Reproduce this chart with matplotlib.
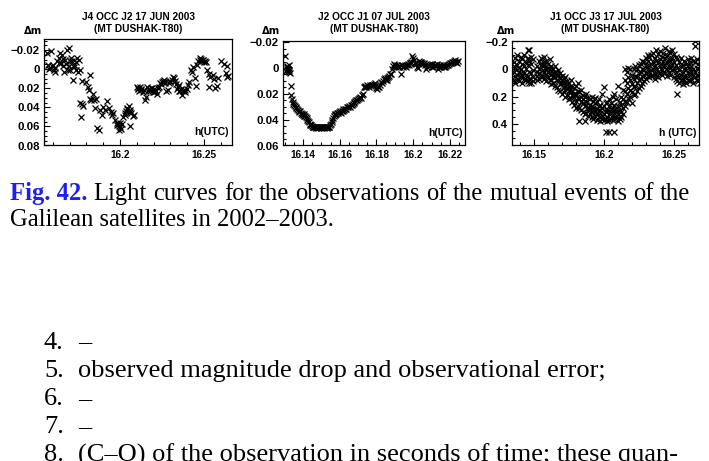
import matplotlib
matplotlib.use("Agg")
import matplotlib.pyplot as plt
from matplotlib.ticker import FixedLocator, MultipleLocator, FuncFormatter

# J4 occ J2, 17 Jun 2003
t1 = [16.1567, 16.1571, 16.1583, 16.1590, 16.1596, 16.1606, 16.1616, 16.1626, 16.1636, 16.1646,
      16.1650, 16.1655, 16.1661, 16.1669, 16.1675, 16.1685, 16.1695, 16.1699, 16.1705, 16.1709,
      16.1715, 16.1720, 16.1728, 16.1736, 16.1744, 16.1750, 16.1756, 16.1764, 16.1774, 16.1760,
      16.1772, 16.1780, 16.1770, 16.1819, 16.1799, 16.1807, 16.1813, 16.1819, 16.1829, 16.1839,
      16.1848, 16.1858, 16.1852, 16.1866, 16.1878, 16.1882, 16.1892, 16.1902, 16.1911, 16.1925,
      16.1937, 16.1945, 16.1953, 16.1961, 16.1970, 16.1980, 16.1990, 16.2000, 16.2006, 16.1992,
      16.2012, 16.2020, 16.2028, 16.2035, 16.2043, 16.2053, 16.2059, 16.2067, 16.2057, 16.2075,
      16.2083, 16.2102, 16.2110, 16.2118, 16.2128, 16.2138, 16.2148, 16.2154, 16.2161, 16.2171,
      16.2181, 16.2191, 16.2201, 16.2211, 16.2221, 16.2230, 16.2240, 16.2250, 16.2260, 16.2270,
      16.2276, 16.2287, 16.2297, 16.2307, 16.2315, 16.2325, 16.2335, 16.2345, 16.2354, 16.2364,
      16.2370, 16.2378, 16.2388, 16.2398, 16.2406, 16.2413, 16.2421, 16.2429, 16.2437, 16.2445,
      16.2453, 16.2459, 16.2467, 16.2475, 16.2482, 16.2492, 16.2502, 16.2512, 16.2520, 16.2528,
      16.2532, 16.2539, 16.2551, 16.2561, 16.2567, 16.2575, 16.2585, 16.2604, 16.2622, 16.2630,
      16.2638, 16.2646, 16.2638,
      16.1578, 16.1600, 16.1612, 16.1640, 16.1660, 16.1680, 16.1690, 16.1702, 16.1725, 16.1740,
      16.2105, 16.2115, 16.2125, 16.2145, 16.2165, 16.2185, 16.2195, 16.2205, 16.2215, 16.2225,
      16.2245, 16.2255, 16.2265, 16.2290, 16.2300, 16.2320, 16.2340, 16.2350, 16.2360, 16.2385,
      16.2475, 16.2485, 16.2495, 16.2505, 16.1985, 16.1996, 16.2003, 16.2030, 16.2040, 16.2062]
dm1 = [-0.0168, -0.0046, -0.0011, -0.0186, -0.0028, 0.0007, 0.0025, -0.0081, -0.0116, -0.0168,
       -0.0063, -0.0151, -0.0028, 0.0025, -0.0098, -0.0204, -0.0221, -0.0028, 0.0007, -0.0116,
       -0.0081, 0.0112, -0.0046, -0.0070, -0.0116, 0.0025, -0.0098, 0.0014, 0.0123, 0.0358,
       0.0369, 0.0386, 0.0498, 0.0060, 0.0130, 0.0190, 0.0218, 0.0316, 0.0323, 0.0260,
       0.0323, 0.0316, 0.0411, 0.0621, 0.0639, 0.0428, 0.0481, 0.0393, 0.0428, 0.0330,
       0.0411, 0.0446, 0.0481, 0.0463, 0.0534, 0.0562, 0.0576, 0.0611, 0.0632, 0.0639,
       0.0576, 0.0498, 0.0463, 0.0435, 0.0411, 0.0386, 0.0428, 0.0463, 0.0597, 0.0491,
       0.0481, 0.0190, 0.0211, 0.0190, 0.0218, 0.0235, 0.0323, 0.0295, 0.0190, 0.0211,
       0.0225, 0.0200, 0.0235, 0.0218, 0.0260, 0.0190, 0.0147, 0.0130, 0.0112, 0.0140,
       0.0225, 0.0218, 0.0130, 0.0112, 0.0077, 0.0119, 0.0154, 0.0190, 0.0165, 0.0211,
       0.0270, 0.0225, 0.0239, 0.0211, 0.0165, 0.0130, 0.0007, 0.0035, -0.0021, 0.0095,
       0.0176, -0.0046, -0.0081, -0.0116, -0.0105, -0.0091, -0.0077, -0.0077, 0.0007, 0.0049,
       0.0190, 0.0077, 0.0060, 0.0098, 0.0200, 0.0176, 0.0095, -0.0081, -0.0056, 0.0042,
       0.0084, 0.0070, -0.0035,
       0.0000, -0.0040, -0.0010, -0.0060, -0.0110, -0.0050, 0.0010, -0.0090, -0.0020, 0.0010,
       0.0200, 0.0230, 0.0205, 0.0215, 0.0225, 0.0195, 0.0240, 0.0210, 0.0225, 0.0200,
       0.0160, 0.0125, 0.0135, 0.0140, 0.0120, 0.0095, 0.0210, 0.0230, 0.0225, 0.0220,
       -0.0100, -0.0085, -0.0100, -0.0090, 0.0590, 0.0600, 0.0560, 0.0480, 0.0420, 0.0450]

# J2 occ J1, 07 Jul 2003
t2 = [16.1300, 16.1309, 16.1311, 16.1313, 16.1315, 16.1317, 16.1319, 16.1321, 16.1323, 16.1325,
      16.1327, 16.1332, 16.1336, 16.1340, 16.1344, 16.1348, 16.1352, 16.1356, 16.1360, 16.1364,
      16.1368, 16.1372, 16.1376, 16.1380, 16.1384, 16.1388, 16.1392, 16.1396, 16.1400, 16.1404,
      16.1408, 16.1412, 16.1416, 16.1420, 16.1424, 16.1428, 16.1432, 16.1436, 16.1440, 16.1444,
      16.1448, 16.1452, 16.1456, 16.1460, 16.1464, 16.1468, 16.1472, 16.1476, 16.1480, 16.1484,
      16.1488, 16.1492, 16.1496, 16.1500, 16.1504, 16.1508, 16.1512, 16.1516, 16.1520, 16.1524,
      16.1528, 16.1532, 16.1536, 16.1540, 16.1544, 16.1548, 16.1552, 16.1556, 16.1560, 16.1564,
      16.1568, 16.1572, 16.1576, 16.1580, 16.1585, 16.1590, 16.1595, 16.1600, 16.1605, 16.1610,
      16.1615, 16.1620, 16.1625, 16.1630, 16.1635, 16.1640, 16.1645, 16.1650, 16.1655, 16.1660,
      16.1665, 16.1670, 16.1675, 16.1680, 16.1685, 16.1690, 16.1695, 16.1700, 16.1705, 16.1710,
      16.1715, 16.1720, 16.1724, 16.1730, 16.1735, 16.1740, 16.1745, 16.1750, 16.1755, 16.1760,
      16.1765, 16.1770, 16.1775, 16.1780, 16.1785, 16.1790, 16.1795, 16.1800, 16.1805, 16.1810,
      16.1815, 16.1820, 16.1825, 16.1830, 16.1835, 16.1840, 16.1845, 16.1850, 16.1855, 16.1860,
      16.1865, 16.1870, 16.1875, 16.1880, 16.1885, 16.1890, 16.1895, 16.1900, 16.1905, 16.1910,
      16.1915, 16.1920, 16.1925, 16.1936, 16.1940, 16.1945, 16.1950, 16.1955, 16.1960, 16.1965,
      16.1970, 16.1975, 16.1980, 16.1985, 16.1990, 16.1995, 16.2000, 16.2005, 16.2010, 16.2015,
      16.2020, 16.2025, 16.2030, 16.2035, 16.2040, 16.2045, 16.2050, 16.2055, 16.2060, 16.2065,
      16.2070, 16.2075, 16.2080, 16.2085, 16.2090, 16.2095, 16.2100, 16.2105, 16.2110, 16.2115,
      16.2120, 16.2125, 16.2130, 16.2135, 16.2140, 16.2145, 16.2150, 16.2155, 16.2160, 16.2165,
      16.2170, 16.2175, 16.2180, 16.2185, 16.2190, 16.2195, 16.2200, 16.2205, 16.2210, 16.2215,
      16.2220, 16.2225, 16.2230, 16.2235, 16.2240, 16.2245]
dm2 = [-0.0095, 0.0026, -0.0005, 0.0010, -0.0015, 0.0020, 0.0005, -0.0020, 0.0030, 0.0015,
       0.0040, 0.0140, 0.0210, 0.0240, 0.0260, 0.0275, 0.0285, 0.0295, 0.0300, 0.0310,
       0.0320, 0.0325, 0.0330, 0.0340, 0.0335, 0.0350, 0.0355, 0.0360, 0.0365, 0.0360,
       0.0370, 0.0375, 0.0380, 0.0390, 0.0400, 0.0410, 0.0420, 0.0430, 0.0440, 0.0445,
       0.0450, 0.0455, 0.0458, 0.0460, 0.0455, 0.0462, 0.0458, 0.0460, 0.0455, 0.0462,
       0.0458, 0.0460, 0.0455, 0.0462, 0.0458, 0.0460, 0.0455, 0.0462, 0.0458, 0.0460,
       0.0455, 0.0462, 0.0458, 0.0460, 0.0455, 0.0440, 0.0430, 0.0415, 0.0400, 0.0390,
       0.0375, 0.0365, 0.0360, 0.0355, 0.0345, 0.0350, 0.0340, 0.0335, 0.0345, 0.0330,
       0.0335, 0.0320, 0.0325, 0.0315, 0.0320, 0.0305, 0.0300, 0.0295, 0.0300, 0.0285,
       0.0290, 0.0280, 0.0270, 0.0260, 0.0255, 0.0250, 0.0245, 0.0240, 0.0235, 0.0225,
       0.0230, 0.0210, 0.0200, 0.0150, 0.0145, 0.0140, 0.0145, 0.0135, 0.0140, 0.0145,
       0.0135, 0.0140, 0.0130, 0.0135, 0.0125, 0.0120, 0.0130, 0.0155, 0.0160, 0.0145,
       0.0150, 0.0130, 0.0110, 0.0115, 0.0100, 0.0085, 0.0080, 0.0095, 0.0090, 0.0075,
       0.0070, 0.0060, 0.0050, 0.0045, 0.0010, -0.0015, -0.0030, -0.0020, -0.0010, -0.0025,
       -0.0010, -0.0015, -0.0005, 0.0046, -0.0020, -0.0010, -0.0015, -0.0025, -0.0010, -0.0020,
       -0.0030, -0.0025, -0.0040, -0.0035, -0.0050, -0.0090, -0.0075, -0.0060, -0.0040, -0.0030,
       -0.0010, 0.0000, -0.0055, -0.0045, -0.0050, -0.0035, -0.0040, -0.0030, -0.0040, -0.0020,
       0.0005, -0.0010, -0.0025, -0.0015, -0.0030, -0.0020, -0.0030, -0.0010, -0.0005, -0.0020,
       -0.0025, -0.0015, -0.0030, 0.0010, -0.0005, -0.0020, -0.0010, -0.0015, -0.0025, -0.0010,
       -0.0020, -0.0005, -0.0015, -0.0025, -0.0020, -0.0030, -0.0035, -0.0040, -0.0045, -0.0050,
       -0.0055, -0.0045, -0.0060, -0.0050, -0.0040, -0.0055]

# J1 occ J3, 17 Jul 2003: several measurements per time stamp
t3 = [16.1355, 16.1368, 16.1380, 16.1392, 16.1405, 16.1418, 16.1430, 16.1442, 16.1455, 16.1468,
      16.1480, 16.1492, 16.1525, 16.1537, 16.1550, 16.1562, 16.1575, 16.1587, 16.1600, 16.1612,
      16.1625, 16.1637, 16.1650, 16.1662, 16.1675, 16.1687, 16.1700, 16.1712, 16.1725, 16.1737,
      16.1750, 16.1762, 16.1775, 16.1787, 16.1800, 16.1812, 16.1825, 16.1837, 16.1850, 16.1862,
      16.1875, 16.1887, 16.1900, 16.1912, 16.1925, 16.1937, 16.1950, 16.1962, 16.1975, 16.1987,
      16.2000, 16.2012, 16.2025, 16.2037, 16.2050, 16.2062, 16.2075, 16.2087, 16.2100, 16.2112,
      16.2125, 16.2137, 16.2150, 16.2162, 16.2175, 16.2187, 16.2200, 16.2212, 16.2225, 16.2237,
      16.2250, 16.2262, 16.2275, 16.2287, 16.2300, 16.2312, 16.2325, 16.2337, 16.2350, 16.2362,
      16.2375, 16.2387, 16.2400, 16.2412, 16.2425, 16.2437, 16.2450, 16.2462, 16.2475, 16.2487,
      16.2500, 16.2512, 16.2525, 16.2537, 16.2550, 16.2562, 16.2575, 16.2587, 16.2600, 16.2612,
      16.2625, 16.2637, 16.2650, 16.2662, 16.2675, 16.2687]
dm3 = [[-0.05, 0.02, 0.08, -0.02], [-0.08, 0.0, 0.05, 0.1], [-0.03, 0.04, -0.1, 0.07],
       [0.02, -0.06, 0.09, -0.01], [-0.09, 0.03, 0.06, 0.0], [0.05, -0.04, 0.1, -0.07],
       [-0.02, 0.07, -0.1, 0.03], [0.0, -0.05, 0.08, 0.04], [-0.14, -0.03, 0.05, 0.09, -0.08],
       [-0.14, 0.02, -0.06, 0.07, 0.1], [-0.04, 0.03, 0.1, -0.09], [0.01, -0.07, 0.06, 0.09],
       [-0.02, 0.05, 0.08, 0.02], [-0.06, 0.0, 0.07, 0.03], [-0.08, -0.03, 0.04, 0.06],
       [-0.05, 0.01, 0.05, -0.02], [-0.09, -0.03, 0.02, 0.07], [-0.06, 0.0, 0.04, 0.09],
       [-0.04, 0.02, 0.06, -0.01], [-0.07, 0.0, 0.03, 0.08], [-0.02, 0.04, 0.08, 0.11],
       [0.0, 0.05, 0.1, 0.03], [0.02, 0.06, 0.12, -0.02], [0.03, 0.08, 0.13, 0.05],
       [0.04, 0.09, 0.15, 0.01], [0.06, 0.11, 0.16, 0.03], [0.05, 0.1, 0.18, 0.08],
       [0.07, 0.13, 0.17, 0.1], [0.06, 0.12, 0.2, 0.15], [0.09, 0.14, 0.19, 0.11],
       [0.1, 0.16, 0.22, 0.13], [0.12, 0.17, 0.21, 0.08], [0.13, 0.19, 0.24, 0.16],
       [0.14, 0.2, 0.26, 0.18], [0.12, 0.18, 0.23, 0.28], [0.16, 0.21, 0.27, 0.1],
       [0.17, 0.22, 0.28, 0.38], [0.15, 0.24, 0.3, 0.2], [0.19, 0.25, 0.31, 0.22],
       [0.2, 0.27, 0.33, 0.38], [0.18, 0.26, 0.32, 0.24], [0.21, 0.28, 0.34, 0.3],
       [0.22, 0.29, 0.33, 0.26], [0.2, 0.27, 0.35, 0.31], [0.23, 0.3, 0.36, 0.28],
       [0.25, 0.31, 0.34, 0.21], [0.24, 0.29, 0.37, 0.32], [0.22, 0.3, 0.35, 0.27],
       [0.26, 0.32, 0.38, 0.3], [0.18, 0.28, 0.34, 0.36], [0.13, 0.27, 0.33, 0.37],
       [0.25, 0.31, 0.36, 0.46, 0.29], [0.24, 0.3, 0.35, 0.38], [0.27, 0.33, 0.37, 0.46, 0.22],
       [0.25, 0.31, 0.36, 0.29], [0.2, 0.28, 0.34, 0.37], [0.18, 0.26, 0.32, 0.36, 0.46],
       [0.22, 0.29, 0.35, 0.31], [0.12, 0.27, 0.33, 0.38], [0.24, 0.3, 0.36, 0.34],
       [0.2, 0.26, 0.31, 0.35], [0.15, 0.22, 0.28, 0.33], [0.0, 0.08, 0.16, 0.24, 0.27],
       [0.02, 0.1, 0.18, 0.24], [-0.01, 0.06, 0.14, 0.21], [0.0, 0.08, 0.15, 0.2],
       [0.04, 0.11, 0.17, 0.25], [0.0, 0.07, 0.13, 0.19], [-0.02, 0.05, 0.12, 0.18],
       [0.0, 0.06, 0.1, 0.16], [-0.03, 0.03, 0.08, 0.14], [-0.04, 0.02, 0.07, 0.12],
       [-0.06, 0.0, 0.05, 0.1], [-0.05, 0.01, 0.04, 0.09], [-0.08, -0.02, 0.03, 0.07],
       [-0.06, 0.0, 0.05, -0.1], [-0.09, -0.03, 0.02, 0.06], [-0.1, -0.04, 0.01, 0.05],
       [-0.12, -0.05, 0.0, 0.04], [-0.08, -0.02, 0.03, 0.07], [-0.14, -0.06, -0.01, 0.05],
       [-0.11, -0.05, 0.02, 0.06], [-0.13, -0.07, -0.02, 0.03], [-0.09, -0.04, 0.01, 0.04],
       [-0.12, -0.06, -0.02, 0.02], [-0.15, -0.08, -0.03, 0.03], [-0.1, -0.05, 0.0, 0.05],
       [-0.13, -0.07, -0.02, 0.02], [-0.12, -0.06, -0.01, 0.04], [-0.14, -0.08, -0.03, 0.01],
       [-0.11, -0.05, 0.0, 0.06], [-0.09, -0.03, 0.02, 0.07], [-0.07, -0.01, 0.05, 0.09, 0.18],
       [-0.05, 0.01, 0.06, 0.1], [-0.08, -0.02, 0.04, 0.08], [-0.03, 0.02, 0.07, 0.11],
       [-0.06, 0.0, 0.05, 0.09], [-0.04, 0.01, 0.06, 0.1], [-0.07, -0.02, 0.03, 0.08],
       [-0.05, 0.0, 0.04, 0.09], [-0.08, -0.02, 0.02, 0.07], [-0.06, 0.0, 0.05, 0.1],
       [-0.2, -0.17, -0.05, 0.02, 0.06], [-0.07, -0.01, 0.04, 0.08], [-0.04, 0.0, 0.05, 0.09],
       [-0.06, 0.01, 0.06, 0.1]]

titles = [("J4 OCC J2 17 JUN 2003", "(MT DUSHAK-T80)"),
          ("J2 OCC J1 07 JUL 2003", "(MT DUSHAK-T80)"),
          ("J1 OCC J3 17 JUL 2003", "(MT DUSHAK-T80)")]
xticks = [[16.2, 16.25], [16.14, 16.16, 16.18, 16.2, 16.22], [16.15, 16.2, 16.25]]
yticks = [[-0.02, 0, 0.02, 0.04, 0.06, 0.08], [-0.02, 0, 0.02, 0.04, 0.06], [-0.2, 0, 0.2, 0.4]]
xlims = [(16.1548, 16.2667), (16.1291, 16.2282), (16.1343, 16.2679)]
ylims = [(0.08, -0.0316), (0.06, -0.0205), (0.556, -0.2)]
xminor = [0.01, 0.005, 0.01]
yminor = [0.005, 0.005, 0.05]
xlabels = ["h(UTC)", "h(UTC)", "h (UTC)"]

caption1 = ["Light", "curves", "for", "the", "observations", "of", "the", "mutual", "events", "of", "the"]
caption2 = "Galilean satellites in 2002\u20132003."
items = [("4.", "\u2013"), ("5.", "observed magnitude drop and observational error;"),
         ("6.", "\u2013"), ("7.", "\u2013"),
         ("8.", "(C\u2013O) of the observation in seconds of time; these quan-")]

W, H = 709, 461
fig = plt.figure(figsize=(W / 100, H / 100), dpi=100)
fig.patch.set_facecolor("white")
renderer = fig.canvas.get_renderer()

# axes boxes in pixels: left, right, top, bottom
boxes = [(44, 232, 39, 145.5), (283, 465, 41.5, 145.5), (512, 699, 41.5, 145.5)]
dm_x = [33, 271, 506]
sans = dict(family="Liberation Sans", weight="bold")


def fmt(v, pos):
    v = round(v, 4)
    if v == 0:
        return "0"
    s = "%g" % v
    return s.replace("-", "\u2212")


x3 = []
y3 = []
for t, vals in zip(t3, dm3):
    for v in vals:
        x3.append(t)
        y3.append(v)
series = [(t1, dm1), (t2, dm2), (x3, y3)]

for i, (l, r, tp, b) in enumerate(boxes):
    ax = fig.add_axes([l / W, 1 - b / H, (r - l) / W, (b - tp) / H])
    tx, ty = series[i]
    ax.plot(tx, ty, "x", color="black", ms=4.2, mew=0.9)
    ax.set_xlim(*xlims[i])
    ax.set_ylim(*ylims[i])
    ax.xaxis.set_major_locator(FixedLocator(xticks[i]))
    ax.yaxis.set_major_locator(FixedLocator(yticks[i]))
    ax.xaxis.set_minor_locator(MultipleLocator(xminor[i]))
    ax.yaxis.set_minor_locator(MultipleLocator(yminor[i]))
    ax.xaxis.set_major_formatter(FuncFormatter(fmt))
    ax.yaxis.set_major_formatter(FuncFormatter(fmt))
    ax.tick_params(which="both", direction="in", top=False, right=False, width=0.8, colors="black")
    ax.tick_params(which="major", length=4.5, pad=3)
    ax.tick_params(which="minor", length=2.2)
    for lab in ax.get_xticklabels():
        lab.set(size=7.2, **sans)
    for lab in ax.get_yticklabels():
        lab.set(size=8.2, **sans)
    for sp in ax.spines.values():
        sp.set_linewidth(0.9)
    ax.text(0.985, 0.125, xlabels[i], transform=ax.transAxes, ha="right", va="center",
            size=7.6, **sans)
    cx = (l + r) / 2
    fig.text(cx / W, 1 - 17 / H, titles[i][0], ha="center", va="center", size=7.3, **sans)
    fig.text(cx / W, 1 - 29 / H, titles[i][1], ha="center", va="center", size=7.3, **sans)
    fig.text(dm_x[i] / W, 1 - 31 / H, "\u0394m", ha="center", va="center",
             family="DejaVu Sans", weight="bold", size=7.2)

# caption: size chosen so the first line fills the text width, then justified
serif = dict(family="Liberation Serif", va="baseline")
probe = fig.text(0, 0, "Fig. 42. " + " ".join(caption1), size=14, weight="normal", **serif)
cap_size = 14 * 680 / probe.get_window_extent(renderer).width
probe.remove()

words = [fig.text(0, 1 - 200 / H, "Fig. 42.", color="#1f1ff0", weight="bold", size=cap_size, **serif)]
words += [fig.text(0, 1 - 200 / H, w, color="black", size=cap_size, **serif) for w in caption1]
widths = [t.get_window_extent(renderer).width for t in words]
gap = (690 - 10 - sum(widths)) / (len(words) - 1)
x = 10
for t, w in zip(words, widths):
    t.set_x(x / W)
    x += w + gap
fig.text(10 / W, 1 - 226 / H, caption2, color="black", size=cap_size, **serif)

# numbered list below
probe = fig.text(0, 0, items[1][1], size=14, **serif)
body_size = 14 * 530 / probe.get_window_extent(renderer).width
probe.remove()
for k, (num, body) in enumerate(items):
    yb = 1 - (348.5 + 28.2 * k) / H
    fig.text(44 / W, yb, num, color="black", size=body_size, **serif)
    fig.text(78 / W, yb, body, color="black", size=body_size, **serif)

fig.savefig("out.png", dpi=100, facecolor="white")
